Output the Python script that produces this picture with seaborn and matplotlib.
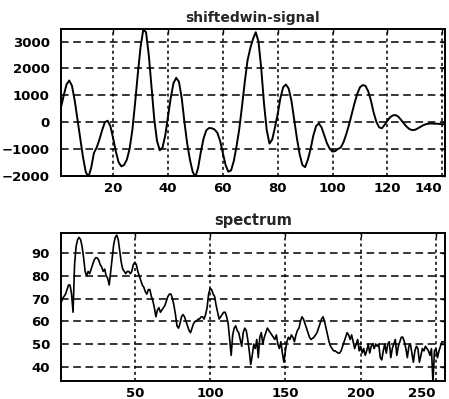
import numpy as np
import pandas as pd
import matplotlib
matplotlib.use("Agg")
import matplotlib.pyplot as plt
import seaborn as sns

# signal values, samples 1..141
signal = [
    550, 1000, 1400, 1550, 1350, 800, 100, -600, -1300, -1850,
    -2050, -1700, -1150, -950, -650, -300, 0, 50, -150, -600,
    -1100, -1500, -1650, -1600, -1400, -1000, -300, 700, 1800, 2800,
    3450, 3350, 2500, 1300, 100, -700, -1050, -950, -500, 200,
    900, 1450, 1650, 1500, 900, 0, -800, -1400, -1850, -2050,
    -1700, -1100, -600, -300, -220, -230, -280, -400, -700, -1150,
    -1600, -1850, -1800, -1450, -900, -250, 600, 1500, 2300, 2750,
    3100, 3350, 3000, 2000, 700, -300, -800, -650, -200, 300,
    900, 1300, 1400, 1250, 800, 100, -600, -1200, -1600, -1680,
    -1400, -1000, -500, -150, -50, -200, -500, -800, -1000, -1100,
    -1080, -1000, -950, -750, -450, -100, 300, 700, 1050, 1300,
    1380, 1350, 1150, 800, 350, 0, -200, -230, -100, 50,
    180, 250, 260, 200, 80, -50, -170, -260, -300, -290,
    -240, -180, -120, -80, -60, -50, -60, -60, -70, -80,
    -80,
]

# spectrum values, bins 1..256
spectrum = [
    68, 70, 71, 72, 74, 76, 76, 72, 64, 85,
    93, 96, 97, 96, 93, 88, 82, 80, 82, 81,
    83, 85, 87, 88, 88, 87, 85, 84, 82, 83,
    80, 79, 76, 82, 88, 94, 97, 98, 96, 91,
    86, 83, 82, 81, 82, 82, 81, 82, 85, 86,
    85, 82, 80, 78, 76, 75, 73, 72, 74, 74,
    71, 69, 66, 62, 65, 66, 64, 65, 66, 67,
    69, 71, 72, 72, 70, 67, 63, 58, 57, 59,
    62, 63, 62, 60, 58, 56, 55, 57, 59, 60,
    60, 61, 61, 62, 62, 61, 63, 66, 72, 74.5,
    74, 72, 71, 67, 64, 61, 62, 63, 64, 64,
    62, 59, 52, 45, 54, 57, 58, 56, 55, 52,
    49, 55, 57, 56, 52, 47, 41, 45, 50, 48,
    52, 44, 53, 55, 50, 53, 55, 57, 56, 55,
    54, 53, 52, 54, 50, 48, 51, 46, 42, 47,
    51, 53, 52, 54, 53, 51, 54, 56, 57, 60,
    62, 61, 59, 57, 55, 53, 52, 52.5, 53, 54,
    55, 57, 59, 61, 62, 60, 57, 54, 51, 49,
    48, 47, 47, 46.5, 46, 46, 47, 49, 51, 53,
    55, 54, 52, 54, 51, 48, 50, 52, 47, 49,
    46, 48, 45, 47, 50, 46, 49, 50, 48, 50,
    49, 50, 44, 43, 47, 50, 46, 50, 51, 44,
    48, 50, 52, 45, 49, 51, 53, 53, 51, 48,
    44, 49, 50, 46, 42, 47, 49, 48, 42, 45,
    48, 47, 49, 48, 47, 45, 48, 33, 47, 48,
    44, 47, 49, 51, 51, 51,
]

sig_df = pd.DataFrame({"n": np.arange(1, len(signal) + 1), "v": signal})
spec_df = pd.DataFrame({"n": np.arange(1, len(spectrum) + 1), "v": spectrum})

sns.set_style("white")
plt.rcParams["font.family"] = ["DejaVu Sans"]

fig = plt.figure(figsize=(4.49, 3.99), dpi=100)
ax1 = fig.add_axes([0.1359, 0.5589, 0.8552, 0.3684])
ax2 = fig.add_axes([0.1359, 0.0451, 0.8552, 0.3702])

sns.lineplot(data=sig_df, x="n", y="v", ax=ax1, color="black", linewidth=1.4)
sns.lineplot(data=spec_df, x="n", y="v", ax=ax2, color="black", linewidth=1.2)

ax1.set_xlim(1, 141)
ax1.set_ylim(-2010, 3470)
ax1.set_xticks([20, 40, 60, 80, 100, 120, 140])
ax1.set_yticks([-2000, -1000, 0, 1000, 2000, 3000])
ax1.set_title("shiftedwin-signal", fontsize=10, fontweight="bold", pad=5)

ax2.set_xlim(1, 256)
ax2.set_ylim(33.7, 98.8)
ax2.set_xticks([50, 100, 150, 200, 250])
ax2.set_yticks([40, 50, 60, 70, 80, 90])
ax2.set_title("spectrum", fontsize=10.5, fontweight="bold", pad=6)

for ax in (ax1, ax2):
    ax.set_xlabel("")
    ax.set_ylabel("")
    for side in ax.spines.values():
        side.set_visible(True)
        side.set_color("black")
        side.set_linewidth(1.4)
    ax.tick_params(direction="in", length=3, width=1, colors="black",
                   labelsize=9.5, right=True, top=True)
    ax.tick_params(axis="x", pad=4)
    ax.tick_params(axis="y", pad=8)
    for lab in ax.get_xticklabels() + ax.get_yticklabels():
        lab.set_fontweight("bold")
    # last x label is pulled inside the figure, as in the original
    ax.get_xticklabels()[-1].set_horizontalalignment("right")
    ax.yaxis.grid(True, color="black", linestyle=(0, (5, 3)), linewidth=1.1)
    ax.xaxis.grid(True, color="black", linestyle=(0, (2, 2)), linewidth=1.1)

fig.savefig("out.png", dpi=100)
